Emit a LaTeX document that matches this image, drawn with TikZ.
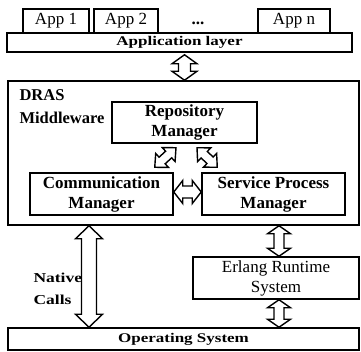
\documentclass[tikz,border=0pt]{standalone}
\usepackage{fontspec}
\setmainfont{Liberation Serif}
\usetikzlibrary{calc}
\tikzset{
  layer/.style={rectangle, draw=black, line width=1.5pt, fill=white,
    inner sep=0pt, align=center, font=\fontsize{17}{20}\selectfont\bfseries},
  plainbox/.style={layer, font=\fontsize{17}{20}\selectfont},
  blockline/.style={draw=black, line width=1.4pt, fill=white, line join=miter},
}
\newcommand{\squashtext}[1]{\scalebox{1}[0.78]{#1}}
% double block arrow from #1 to #2: half shaft #3, half head #4, head length #5
\newcommand{\blockarrow}[5]{%
  \path[blockline]
    (#1) -- ($(#1)!#5!(#2)!#4!90:(#2)$) -- ($(#1)!#5!(#2)!#3!90:(#2)$)
    -- ($(#2)!#5!(#1)!#3!-90:(#1)$) -- ($(#2)!#5!(#1)!#4!-90:(#1)$) -- (#2)
    -- ($(#2)!#5!(#1)!#4!90:(#1)$) -- ($(#2)!#5!(#1)!#3!90:(#1)$)
    -- ($(#1)!#5!(#2)!#3!-90:(#2)$) -- ($(#1)!#5!(#2)!#4!-90:(#2)$) -- cycle;}

\begin{document}
\begin{tikzpicture}[x=1pt, y=-1pt]
\useasboundingbox (0,0) rectangle (361,351);

% applications on top
\node[plainbox, minimum width=66pt, minimum height=24pt] (app1) at (56,21) {App 1};
\node[plainbox, minimum width=64pt, minimum height=24pt] (app2) at (126,21) {App 2};
\node[plainbox, minimum width=72pt, minimum height=24pt] (appn) at (294,21) {App n};
\node[font=\fontsize{17}{20}\selectfont\bfseries] (dots) at (198,23) {...};
\node[layer, minimum width=345pt, minimum height=19pt] (applayer) at (179.5,42.5)
  {\squashtext{Application layer}};

% middleware and its managers
\node[layer, minimum width=351pt, minimum height=144pt] (mw) at (183.5,153) {};
\node[anchor=north west, align=left, font=\fontsize{16.5}{23}\selectfont\bfseries]
  (mwlabel) at (16,86) {DRAS\\Middleware};
\node[layer, minimum width=145pt, minimum height=41pt] (repo) at (184.5,122.5)
  {Repository\\Manager};
\node[layer, minimum width=143pt, minimum height=42pt] (comm) at (101.5,194)
  {Communication\\Manager};
\node[layer, minimum width=143pt, minimum height=42pt] (spm) at (273.5,194)
  {Service Process\\Manager};

% runtime and os
\node[plainbox, minimum width=166pt, minimum height=42pt] (erlang) at (276,278)
  {Erlang Runtime\\System};
\node[layer, minimum width=351pt, minimum height=22pt] (os) at (183.5,339)
  {\squashtext{Operating System}};
\node[anchor=west, align=left, font=\fontsize{17.5}{22}\selectfont\bfseries]
  (native) at (30,289) {\squashtext{Native}\\\squashtext{Calls}};

% arrow ends
\coordinate (up1) at ($(applayer.south -| repo)+(0,2)$);
\coordinate (up2) at (mw.north -| repo);
\coordinate (dl1) at ($(repo.south)+(-8.5,4)$);
\coordinate (dl2) at ($(comm.north east)+(-19,-5)$);
\coordinate (dr1) at ($(repo.south)+(12.5,4)$);
\coordinate (dr2) at ($(spm.north west)+(16,-5)$);
\coordinate (mid1) at ($(comm.east)+(0,-2)$);
\coordinate (mid2) at ($(spm.west)+(0,-2)$);
\coordinate (rt1) at ($(mw.south -| erlang)+(3,0)$);
\coordinate (rt2) at ($(erlang.north)+(3,0)$);
\coordinate (rt3) at ($(erlang.south)+(3,0)$);
\coordinate (rt4) at ($(os.north -| erlang)+(3,0)$);
\coordinate (nc1) at ($(mw.south)+(-94.5,0)$);
\coordinate (nc2) at ($(os.north)+(-94.5,0)$);

% block arrows between the parts
\blockarrow{up1}{up2}{6pt}{12.5pt}{9pt}
\blockarrow{dl1}{dl2}{4.5pt}{9.5pt}{10pt}
\blockarrow{dr1}{dr2}{4.5pt}{9.5pt}{10pt}
\blockarrow{mid1}{mid2}{6pt}{11.5pt}{9pt}
\blockarrow{rt1}{rt2}{5pt}{11.5pt}{8pt}
\blockarrow{rt3}{rt4}{5pt}{11.5pt}{8pt}
\blockarrow{nc1}{nc2}{7.5pt}{13.5pt}{13pt}
\end{tikzpicture}
\end{document}
